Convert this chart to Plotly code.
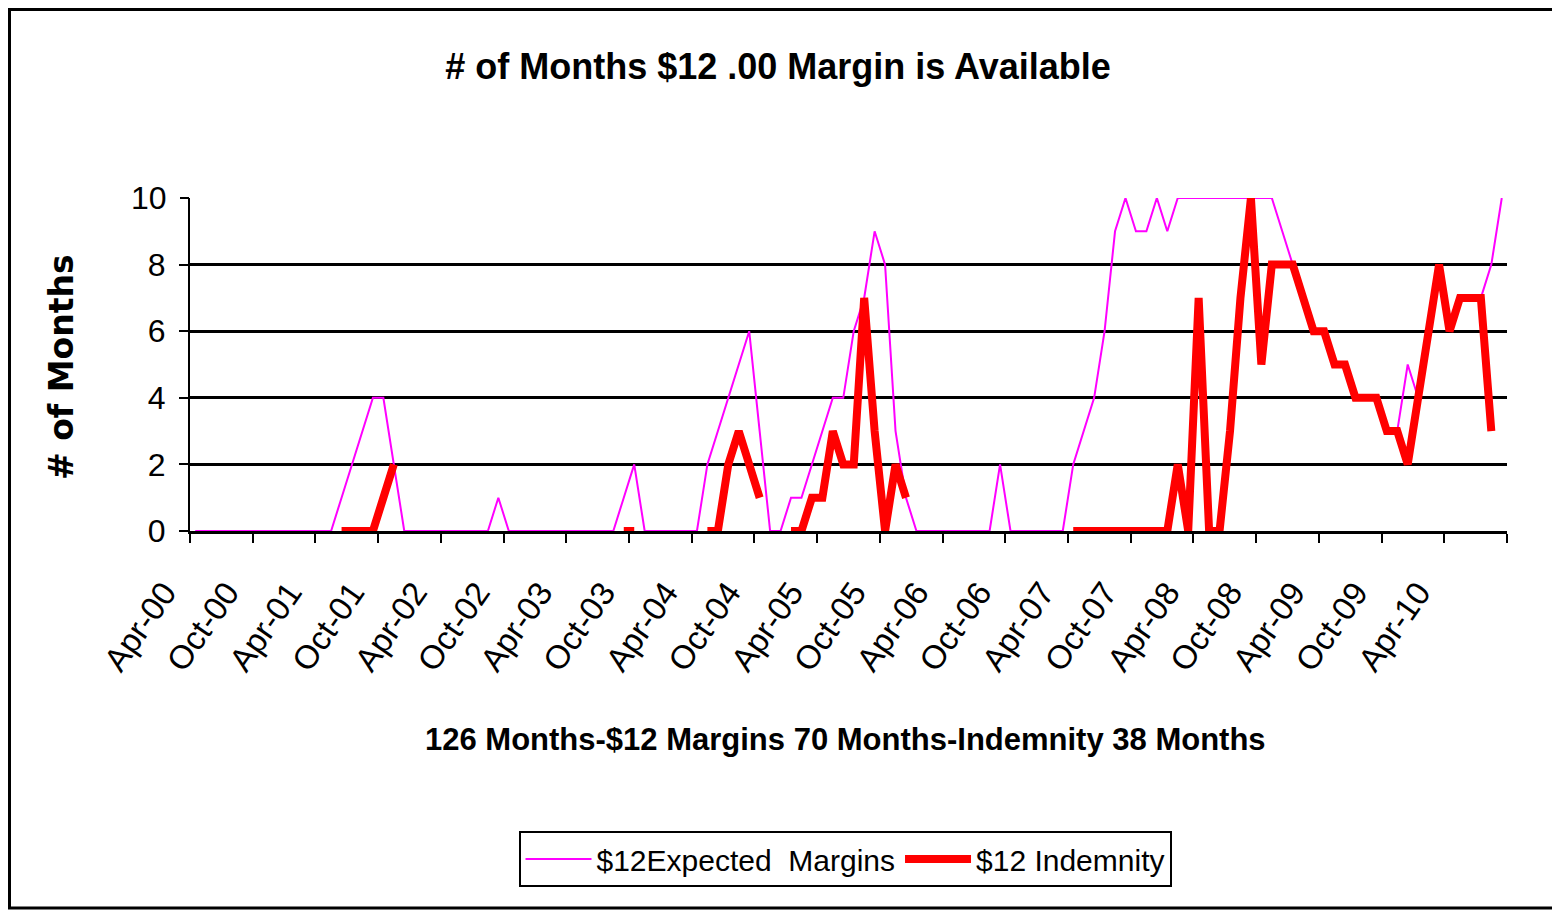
import pandas as pd
import plotly.graph_objects as go

# ---- data -------------------------------------------------------------
months = pd.date_range("2000-04-01", "2010-09-01", freq="MS").strftime("%b-%y").tolist()

expected_margins = [
    0, 0, 0, 0, 0, 0, 0, 0, 0, 0, 0, 0, 0, 0,          # Apr-00 .. May-01
    1, 2, 3, 4, 4, 2, 0,                                # Jun-01 .. Dec-01
    0, 0, 0, 0, 0, 0, 0, 0, 1, 0,                       # Jan-02 .. Oct-02
    0, 0, 0, 0, 0, 0, 0, 0, 0, 0, 1, 2, 0,              # Nov-02 .. Nov-03
    0, 0, 0, 0, 0, 2, 3, 4, 5, 6, 3, 0, 0,              # Dec-03 .. Dec-04
    1, 1, 2, 3, 4, 4, 6, 7, 9, 8, 3, 1, 0,              # Jan-05 .. Jan-06
    0, 0, 0, 0, 0, 0, 0, 2, 0,                          # Feb-06 .. Oct-06
    0, 0, 0, 0, 0, 2, 3, 4, 6, 9, 10, 9, 9, 10, 9,      # Nov-06 .. Jan-08
    10, 10, 10, 10, 10, 10, 10, 10, 10, 10,             # Feb-08 .. Nov-08
    9, 8, 7, 6, 6, 5, 5, 4, 4, 4, 3, 3,                 # Dec-08 .. Nov-09
    5, 4, 6, 8, 6, 7, 7, 7, 8, 10,                      # Dec-09 .. Sep-10
]

N = None
indemnity = [
    N, N, N, N, N, N, N, N, N, N, N, N, N, N,
    0, 0, 0, 0, 1, 2,
    N, N, N, N, N, N, N, N, N, N, N, N, N, N, N, N, N, N, N, N, N,
    0, 0,
    N, N, N, N, N, N,
    0, 0, 2, 3, 2, 1,
    N, N,
    0, 0, 1, 1, 3, 2, 2, 7, 3, 0, 2, 1,
    N, N, N, N, N, N, N, N, N, N, N, N, N, N, N,
    0, 0, 0, 0, 0, 0, 0, 0, 0, 0, 2, 0, 7, 0, 0, 3, 7, 10, 5,
    8, 8, 8, 7, 6, 6, 5, 5, 4, 4, 4, 3, 3, 2, 4, 6, 8, 6, 7, 7, 7, 3,
    N,
]

y_ticks = [0, 2, 4, 6, 8]
y_top = [10]

title_text = "# of Months $12 .00 Margin is Available"
x_title_text = "126 Months-$12 Margins 70 Months-Indemnity 38 Months"
y_title_text = "# of Months"
series_names = ["$12Expected\u00a0 Margins", "$12 Indemnity"]

# ---- figure -------------------------------------------------------------
SANS = "Liberation Sans, Arial, sans-serif"

fig = go.Figure()
fig.add_trace(go.Scatter(
    x=months, y=expected_margins, mode="lines", name=series_names[0],
    line=dict(color="#FF00FF", width=2), xaxis="x", yaxis="y",
))
fig.add_trace(go.Scatter(
    x=months, y=indemnity, mode="lines", name=series_names[1],
    line=dict(color="#FF0000", width=8), connectgaps=False,
    xaxis="x", yaxis="y",
))

W, H = 1560, 912
OFF = 8  # page body margin
L, T = 190 - OFF, 198 - OFF
PR, PB = 1507 - OFF, 531 - OFF
R, B = W - PR, H - PB
pw, ph = PR - L, PB - T


def px(xp):  # reference page x -> paper
    return (xp - OFF - L) / pw


def py(yp):  # reference page y -> paper
    return (PB - (yp - OFF)) / ph


fig.update_layout(
    width=W, height=H,
    margin=dict(l=L, r=R, t=T, b=B, autoexpand=False),
    paper_bgcolor="white", plot_bgcolor="white",
    showlegend=True,
    title=dict(text=title_text, x=(778 - OFF) / W, xref="container", xanchor="center",
               y=1 - (66 - OFF) / H, yref="container", yanchor="middle",
               font=dict(family=SANS, size=36, color="black", weight="bold")),
    xaxis=dict(
        type="category", categoryorder="array", categoryarray=months,
        range=[-0.5, len(months) - 0.5],
        tickmode="linear", tick0=0, dtick=6, tickson="boundaries",
        ticks="outside", ticklen=9, tickwidth=2, tickcolor="black",
        tickangle=-55, ticklabelstandoff=26, ticklabelshift=-31,
        tickfont=dict(family=SANS, size=33, color="black"),
        showline=True, linecolor="black", linewidth=3,
        showgrid=False, zeroline=False, fixedrange=True,
    ),
    yaxis=dict(
        range=[0, 10], tickmode="array", tickvals=y_ticks,
        ticks="outside", ticklen=9, tickwidth=2, tickcolor="black",
        ticklabelstandoff=7,
        tickfont=dict(family=SANS, size=32, color="black"),
        showline=True, linecolor="black", linewidth=2,
        showgrid=True, gridcolor="black", gridwidth=3,
        zeroline=False, fixedrange=True,
    ),
    yaxis2=dict(
        overlaying="y", side="left", range=[0, 10], tickmode="array",
        tickvals=y_top, ticks="outside", ticklen=9, tickwidth=2, tickcolor="black",
        ticklabelstandoff=7,
        tickfont=dict(family=SANS, size=32, color="black"),
        showline=False, showgrid=True, gridcolor="#C0C0C0", gridwidth=1,
        zeroline=False, fixedrange=True,
    ),
    legend=dict(
        orientation="h", x=px(845), xanchor="center", y=py(859), yanchor="middle",
        bordercolor="black", borderwidth=2, bgcolor="white",
        font=dict(family=SANS, size=30, color="black"),
        itemwidth=66, entrywidth=0,
    ),
)

# invisible trace so yaxis2 renders
fig.add_trace(go.Scatter(x=[months[0]], y=[None], yaxis="y2", showlegend=False,
                         hoverinfo="skip", mode="lines"))

fig.add_annotation(text=y_title_text, textangle=-90, xref="paper", yref="paper",
                   x=px(61), y=py(367), xanchor="center", yanchor="middle",
                   showarrow=False,
                   font=dict(family="DejaVu Sans, sans-serif", size=33, color="black", weight="bold"))
fig.add_annotation(text=x_title_text, xref="paper", yref="paper",
                   x=px(845), y=py(739), xanchor="center", yanchor="middle",
                   showarrow=False,
                   font=dict(family=SANS, size=31, color="black", weight="bold"))

# outer chart frame
fig.add_shape(type="rect", xref="paper", yref="paper",
              x0=px(OFF + 1.5), x1=px(1555), y0=py(908), y1=py(OFF + 1.5),
              line=dict(color="black", width=3), layer="below")

fig.write_html("out.html")
